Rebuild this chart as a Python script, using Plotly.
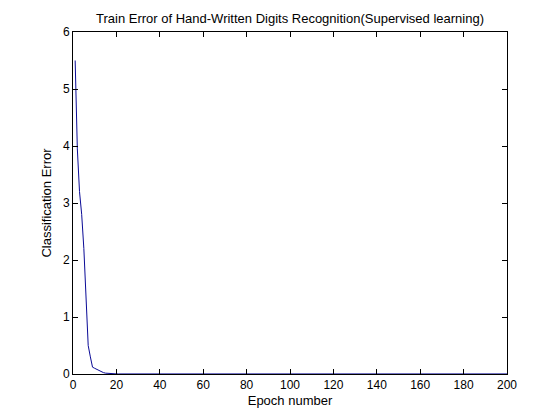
import plotly.graph_objects as go

# Data
epochs = list(range(1, 201))
early_error = [5.5, 3.95, 3.2, 2.8, 2.2, 1.2, 0.5, 0.3, 0.12, 0.1,
               0.08, 0.06, 0.04, 0.025, 0.015, 0.01, 0.005, 0.003, 0.002, 0.002]
late_error = [0.001] * 180
error = early_error + late_error

x_ticks = list(range(0, 201, 20))
y_ticks = [0, 1, 2, 3, 4, 5, 6]

tick_font = dict(family="Liberation Sans, Arial, sans-serif", size=12, color="black")
label_font = dict(family="Liberation Sans, Arial, sans-serif", size=13, color="black")

fig = go.Figure()
fig.add_trace(go.Scatter(x=epochs, y=error, mode="lines",
                         line=dict(color="rgb(10,10,150)", width=1),
                         showlegend=False))

axis_common = dict(showline=True, linecolor="black", linewidth=1, mirror="allticks",
                   ticks="inside", ticklen=5, tickcolor="black", showgrid=False,
                   zeroline=False, tickfont=tick_font, automargin=False)

fig.update_layout(
    width=552, height=412,
    paper_bgcolor="white", plot_bgcolor="white",
    margin=dict(l=65, r=53, t=24, b=46),
    font=label_font,
    title=dict(text="Train Error of Hand-Written Digits Recognition(Supervised learning)",
               x=0.5, xref="paper", xanchor="center", y=0.975, yanchor="middle",
               font=label_font),
    xaxis=dict(range=[0, 200], tickvals=x_ticks, ticktext=[str(v) for v in x_ticks],
               title=dict(text="Epoch number", font=label_font, standoff=4), **axis_common),
    yaxis=dict(range=[0, 6], tickvals=y_ticks, ticktext=[str(v) for v in y_ticks],
               title=dict(text="Classification Error", font=label_font, standoff=8), **axis_common),
)

fig.write_html("out.html")
